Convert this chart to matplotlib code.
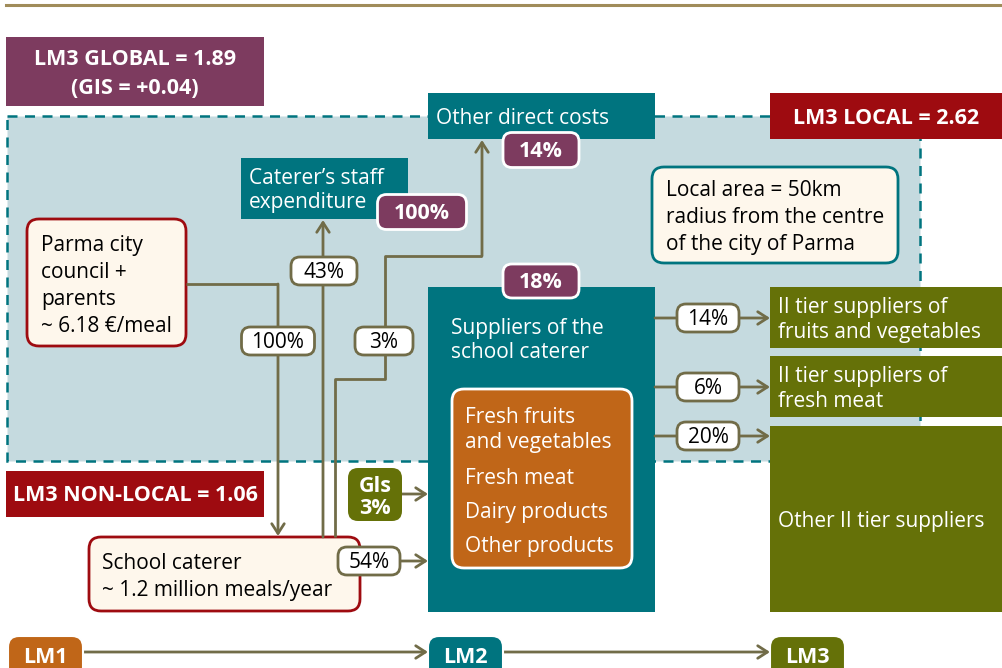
import matplotlib.pyplot as plt
from matplotlib.patches import Rectangle, FancyBboxPatch

plt.rcParams['font.family'] = ['Open Sans', 'DejaVu Sans']

# values / labels of the diagram
lm3_global = ['LM3 GLOBAL = 1.89', '(GIS = +0.04)']
lm3_local = 'LM3 LOCAL = 2.62'
lm3_nonlocal = 'LM3 NON-LOCAL = 1.06'
share_other_direct = '14%'
share_staff = '100%'
share_suppliers = '18%'
flow_council = '100%'
flow_staff = '43%'
flow_direct = '3%'
flow_gis = ['Gls', '3%']
flow_suppliers = '54%'
tier2_flows = ['14%', '6%', '20%']
tier2_labels = [['II tier suppliers of', 'fruits and vegetables'],
                ['II tier suppliers of', 'fresh meat'],
                ['Other II tier suppliers']]
products = ['Fresh fruits', 'and vegetables', 'Fresh meat', 'Dairy products', 'Other products']
council_text = ['Parma city', 'council +', 'parents', '~ 6.18 \u20ac/meal']
caterer_text = ['School caterer', '~ 1.2 million meals/year']
local_text = ['Local area = 50km', 'radius from the centre', 'of the city of Parma']
lm_steps = ['LM1', 'LM2', 'LM3']

PURPLE = '#7d3b5f'
TEAL = '#00747f'
RED = '#9e0b10'
OLIVE = '#657108'
ORANGE = '#c06618'
REGION = '#c5dadf'
CREAM = '#fef7ec'
ARROW = '#716c48'

fig = plt.figure(figsize=(10.02, 6.68), dpi=100)
ax = fig.add_axes([0, 0, 1, 1])
ax.set_xlim(0, 1002)
ax.set_ylim(668, 0)
ax.axis('off')

FS = 15
FSB = 15.5
DY = 2.5  # small shift so text sits like the reference


def txt(x, y, s, color='white', size=FS, weight='normal', ha='left', z=5):
    ax.text(x, y + DY, s, color=color, fontsize=size, fontweight=weight,
            ha=ha, va='center', zorder=z)


def box(x0, y0, x1, y1, fc, ec='none', lw=0, r=0, z=2):
    if r > 0:
        p = FancyBboxPatch((x0, y0), x1 - x0, y1 - y0,
                           boxstyle='round,pad=0,rounding_size=%g' % r,
                           fc=fc, ec=ec, lw=lw, zorder=z)
    else:
        p = Rectangle((x0, y0), x1 - x0, y1 - y0, fc=fc, ec=ec, lw=lw, zorder=z)
    ax.add_patch(p)


def lines(x, y, rows, dy, color='white', size=FS, weight='normal', ha='left'):
    for i, t in enumerate(rows):
        txt(x, y + i * dy, t, color, size, weight, ha)


def pill(cx, cy, s, w, h=28, fc='white', ec=ARROW, tc='black', weight='normal', size=FS):
    box(cx - w / 2, cy - h / 2, cx + w / 2, cy + h / 2, fc, ec, 2, r=9, z=6)
    txt(cx, cy - 1, s, tc, size, weight, 'center', z=7)


def path(pts):
    xs = [p[0] for p in pts]
    ys = [p[1] for p in pts]
    ax.plot(xs[:-1], ys[:-1], color=ARROW, lw=2, zorder=3, solid_capstyle='butt')
    ax.annotate('', xy=pts[-1], xytext=pts[-2],
                arrowprops=dict(arrowstyle='->,head_length=0.7,head_width=0.45',
                                color=ARROW, lw=2, shrinkA=0, shrinkB=0),
                zorder=3)


# top rule
ax.plot([6, 1002], [5, 5], color='#a08c5a', lw=2.2)

# local area region
ax.add_patch(Rectangle((7, 116), 913, 345, fc=REGION, ec=TEAL, lw=1.8,
                       ls=(0, (4, 3)), zorder=1))

# LM3 headline boxes
box(6, 37, 264, 106, PURPLE)
lines(135, 57, lm3_global, 29, size=FSB, weight='bold', ha='center')
box(770, 93, 1002, 139, RED)
txt(886, 116, lm3_local, size=FSB, weight='bold', ha='center')
box(6, 471, 264, 517, RED)
txt(135, 493, lm3_nonlocal, size=FSB, weight='bold', ha='center')

# other direct costs
box(428, 93, 655, 139, TEAL)
txt(436, 116, 'Other direct costs')
pill(541, 150, share_other_direct, 76, 35, fc=PURPLE, ec='white', tc='white', weight='bold', size=FSB)

# staff expenditure
box(241, 158, 408, 219, TEAL)
lines(249, 176, ['Caterer\u2019s staff', 'expenditure'], 24)
pill(422, 212, share_staff, 89, 35, fc=PURPLE, ec='white', tc='white', weight='bold', size=FSB)

# local area note
box(652, 167, 898, 263, CREAM, TEAL, 2, r=12, z=2)
lines(666, 188, local_text, 27, color='black')

# city council
box(27, 219, 186, 346, CREAM, RED, 2, r=12, z=2)
lines(41, 243, council_text, 27, color='black')

# school caterer
box(89, 537, 360, 611, CREAM, RED, 2, r=12, z=2)
lines(102, 561, caterer_text, 27, color='black')

# suppliers of the school caterer
box(428, 287, 655, 612, TEAL)
lines(451, 326, ['Suppliers of the', 'school caterer'], 24)
pill(541, 281, share_suppliers, 76, 34, fc=PURPLE, ec='white', tc='white', weight='bold', size=FSB)
box(452, 389, 632, 568, ORANGE, 'white', 2, r=12, z=4)
prod_y = [415, 440, 476, 510, 544]
for t, y in zip(products, prod_y):
    txt(465, y, t)

# II tier suppliers
tier_boxes = [(287, 348), (356, 417), (426, 612)]
tier_arrow_y = [318, 387, 436]
for (y0, y1), lab, fl, ay in zip(tier_boxes, tier2_labels, tier2_flows, tier_arrow_y):
    box(770, y0, 1002, y1, OLIVE)
    if len(lab) == 2:
        lines(778, y0 + 18, lab, 25)
    else:
        lines(778, 519, lab, 25)
    path([(655, ay), (770, ay)])
    pill(708, ay, fl, 62)

# flows
path([(186, 284), (278, 284), (278, 536)])
pill(278, 341, flow_council, 73)
path([(323, 537), (323, 220)])
pill(324, 271, flow_staff, 66)
path([(335, 537), (335, 379), (385, 379), (385, 256), (482, 256), (482, 140)])
pill(384, 341, flow_direct, 58)

# gis
box(348, 468, 402, 521, OLIVE, r=10, z=4)
lines(375, 484, flow_gis, 22, size=FSB, weight='bold', ha='center')
path([(402, 494), (428, 494)])
path([(400, 561), (428, 561)])
pill(369, 561, flow_suppliers, 62)

# LM steps
lm_x = [8, 428, 770]
lm_col = [ORANGE, TEAL, OLIVE]
for x, c, t in zip(lm_x, lm_col, lm_steps):
    box(x, 636, x + 75, 690, c, 'white', 1.5, r=11, z=4)
    txt(x + 37.5, 655, t, size=FSB, weight='bold', ha='center')
path([(83, 652), (428, 652)])
path([(503, 652), (770, 652)])

fig.savefig('out.png', dpi=100)
